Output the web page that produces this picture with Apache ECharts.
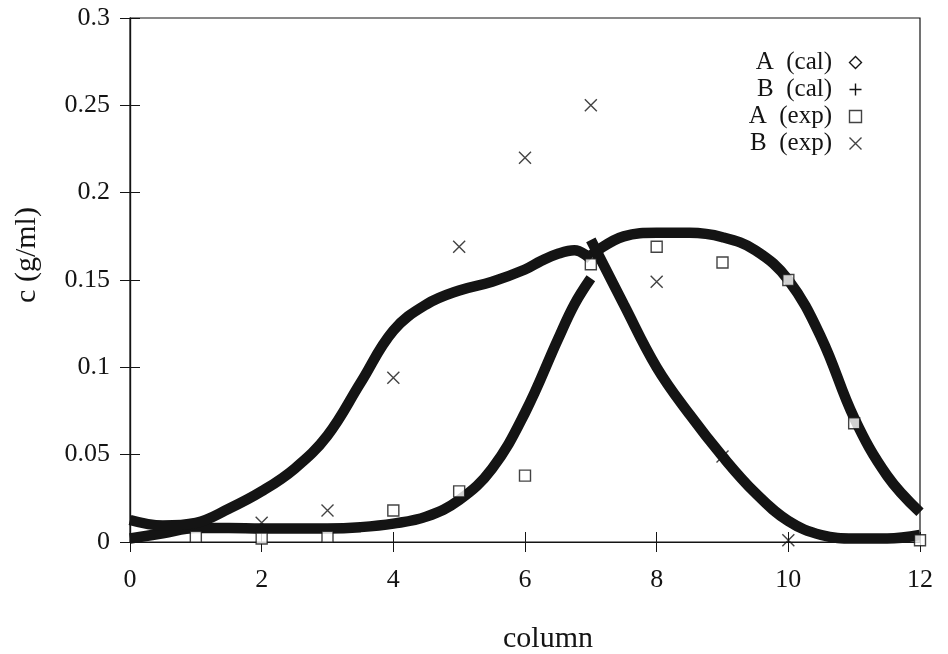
<!DOCTYPE html>
<html>
<head>
<meta charset="utf-8">
<script src="https://cdn.jsdelivr.net/npm/echarts@6/dist/echarts.min.js"></script>
<style>
  html, body { margin: 0; padding: 0; background: #fff; }
  #chart { width: 948px; height: 654px; }
</style>
</head>
<body>
<div id="chart"></div>
<script>
// calculated profiles, split at the feed point (column 7)
var aCalX1 = [0, 0.5, 1, 1.5, 2, 2.5, 3, 3.5, 4, 4.5, 5, 5.5, 6, 6.5, 6.75, 7]
var aCalY1 = [0.002, 0.005, 0.008, 0.008, 0.0078, 0.0078, 0.0078, 0.0085, 0.0105, 0.0145, 0.024, 0.042, 0.074, 0.116, 0.136, 0.151]
var aCalX2 = [7, 7.5, 8, 8.5, 9, 9.5, 10, 10.5, 11, 11.5, 12]
var aCalY2 = [0.164, 0.175, 0.177, 0.177, 0.1745, 0.167, 0.150, 0.117, 0.071, 0.038, 0.017]

var bCalX1 = [0, 0.5, 1, 1.5, 2, 2.5, 3, 3.5, 4, 4.5, 5, 5.5, 6, 6.25, 6.5, 6.75, 7]
var bCalY1 = [0.0126, 0.0095, 0.011, 0.019, 0.029, 0.042, 0.061, 0.091, 0.121, 0.136, 0.144, 0.149, 0.156, 0.161, 0.165, 0.167, 0.162]
var bCalX2 = [7, 7.5, 8, 8.5, 9, 9.5, 10, 10.5, 11, 11.5, 12]
var bCalY2 = [0.173, 0.136, 0.100, 0.073, 0.049, 0.028, 0.012, 0.004, 0.002, 0.002, 0.004]

// measured points
var aExpX = [1, 2, 3, 4, 5, 6, 7, 8, 9, 10, 11, 12]
var aExpY = [0.003, 0.002, 0.003, 0.018, 0.029, 0.038, 0.159, 0.169, 0.160, 0.150, 0.068, 0.001]
var bExpX = [2, 3, 4, 5, 6, 7, 8, 9, 10]
var bExpY = [0.011, 0.018, 0.094, 0.169, 0.22, 0.25, 0.149, 0.049, 0.001]

function pairs(xs, ys) {
  return xs.map(function(x, i) { return [x, ys[i]] })
}

var FONT = 'Liberation Serif'
var INK = '#141414'
var DIAMOND = 'path://M5,0L10,5L5,10L0,5Z'
var PLUS = 'path://M5,0L5,10M0,5L10,5'
var CROSS = 'path://M0,0L10,10M10,0L0,10'
var SQUARE = 'path://M0,0L10,0L10,10L0,10Z'

var chart = echarts.init(document.getElementById('chart'))

function calLine(name, xs, ys) {
  return {
    name: name,
    type: 'line',
    data: pairs(xs, ys),
    smooth: 0.4,
    showSymbol: false,
    symbol: 'none',
    lineStyle: { color: INK, width: 10.5 },
    itemStyle: { color: INK },
    silent: true,
    z: 2
  }
}

var openIcon = { color: 'none', borderColor: INK, borderWidth: 1.4 }

chart.setOption({
  animation: false,
  backgroundColor: '#fff',
  textStyle: { fontFamily: FONT, color: INK },
  grid: {
    left: 130, right: 28, top: 18, bottom: 112,
    outerBoundsMode: 'none',
    show: true, borderColor: INK, borderWidth: 1.2
  },
  legend: {
    orient: 'vertical',
    right: 79,
    top: 45,
    align: 'right',
    itemWidth: 12,
    itemHeight: 12,
    itemGap: 2,
    selectedMode: false,
    formatter: function(name) { return name.replace(' ', '\u2002') + '\u2002' },
    textStyle: { fontFamily: FONT, fontSize: 25, color: INK, lineHeight: 24 },
    data: [
      { name: 'A (cal)', icon: DIAMOND, itemStyle: openIcon },
      { name: 'B (cal)', icon: PLUS, itemStyle: openIcon },
      { name: 'A (exp)', icon: SQUARE, itemStyle: openIcon },
      { name: 'B (exp)', icon: CROSS, itemStyle: openIcon }
    ]
  },
  xAxis: [{
    type: 'value',
    min: 0, max: 12, interval: 2,
    name: 'column',
    nameLocation: 'middle',
    nameGap: 82,
    nameTextStyle: { fontFamily: FONT, fontSize: 30, color: INK, padding: [0, 0, 0, 46] },
    axisLine: { lineStyle: { color: INK, width: 1.2 } },
    axisTick: { inside: true, length: 10, lineStyle: { color: INK } },
    splitLine: { show: false },
    axisLabel: { fontFamily: FONT, fontSize: 26, color: INK, margin: 25 }
  }, {
    type: 'value',
    position: 'top',
    min: 0, max: 12, interval: 2,
    axisLine: { lineStyle: { color: INK, width: 1.2 } },
    axisTick: { inside: true, length: 10, lineStyle: { color: INK } },
    splitLine: { show: false },
    axisLabel: { show: false }
  }],
  yAxis: [{
    type: 'value',
    min: 0, max: 0.3, interval: 0.05,
    name: 'c (g/ml)',
    nameLocation: 'middle',
    nameGap: 88,
    nameTextStyle: { fontFamily: FONT, fontSize: 30, color: INK, padding: [0, 0, 0, 50] },
    axisLine: { show: true, lineStyle: { color: INK, width: 1.2 } },
    axisTick: { show: true, inside: true, length: 10, lineStyle: { color: INK } },
    splitLine: { show: false },
    axisLabel: {
      fontFamily: FONT, fontSize: 26, color: INK, margin: 20,
      formatter: function(v) { return String(+v.toFixed(2)) }
    }
  }, {
    type: 'value',
    position: 'right',
    min: 0, max: 0.3, interval: 0.05,
    axisLine: { show: true, lineStyle: { color: INK, width: 1.2 } },
    axisTick: { show: true, inside: true, length: 10, lineStyle: { color: INK } },
    splitLine: { show: false },
    axisLabel: { show: false }
  }],
  series: [
    calLine('A (cal)', aCalX1, aCalY1),
    calLine('A (cal)', aCalX2, aCalY2),
    calLine('B (cal)', bCalX1, bCalY1),
    calLine('B (cal)', bCalX2, bCalY2),
    {
      name: 'A (exp)',
      type: 'scatter',
      data: pairs(aExpX, aExpY),
      symbol: SQUARE,
      symbolSize: 11,
      itemStyle: { color: '#fff', borderColor: INK, borderWidth: 1.4 },
      clip: false,
      z: 3
    },
    {
      name: 'B (exp)',
      type: 'scatter',
      data: pairs(bExpX, bExpY),
      symbol: CROSS,
      symbolSize: 12,
      itemStyle: { color: 'none', borderColor: INK, borderWidth: 1.4 },
      clip: false,
      z: 3
    }
  ]
})
</script>
</body>
</html>
